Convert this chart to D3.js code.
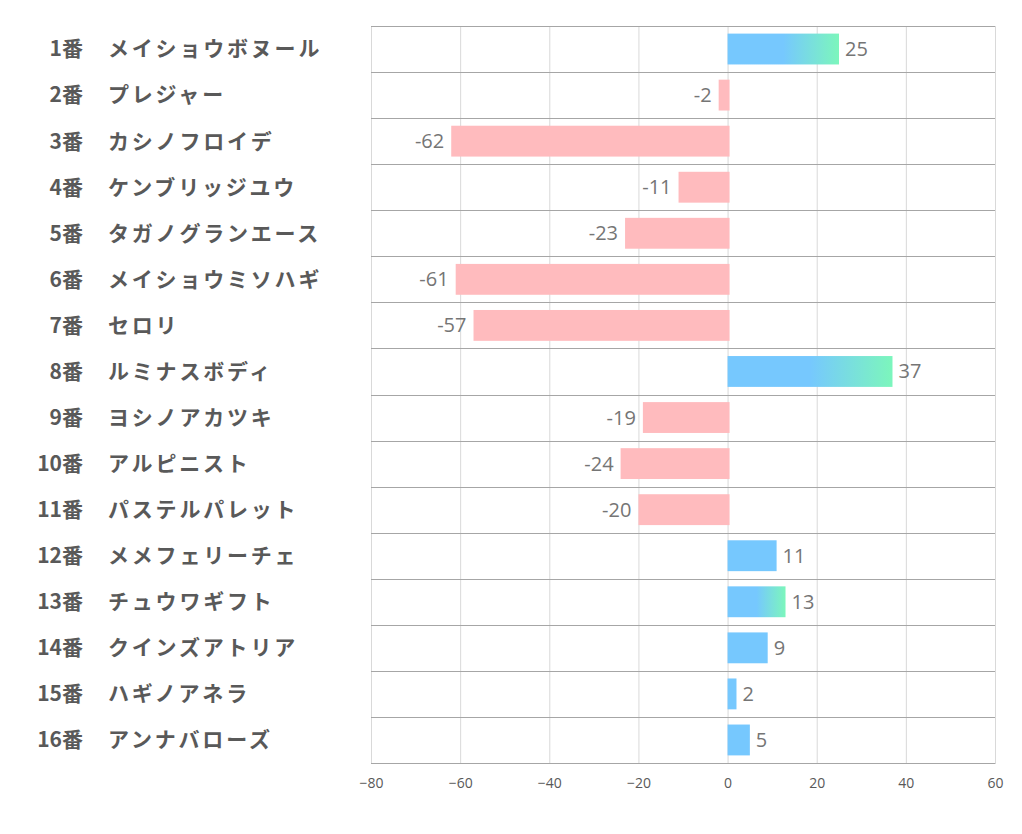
<!DOCTYPE html>
<html><head><meta charset="utf-8">
<script src="https://cdn.jsdelivr.net/npm/d3@7"></script>
<style>body{margin:0;background:#fff}svg{display:block}</style>
</head><body>
<svg id="c" width="1022" height="834"></svg>
<script>
const numbers = ["1番","2番","3番","4番","5番","6番","7番","8番","9番","10番","11番","12番","13番","14番","15番","16番"];
const names = ["メイショウボヌール","プレジャー","カシノフロイデ","ケンブリッジユウ","タガノグランエース","メイショウミソハギ","セロリ","ルミナスボディ","ヨシノアカツキ","アルピニスト","パステルパレット","メメフェリーチェ","チュウワギフト","クインズアトリア","ハギノアネラ","アンナバローズ"];
const values = [25,-2,-62,-11,-23,-61,-57,37,-19,-24,-20,11,13,9,2,5];
const ticks = [-80,-60,-40,-20,0,20,40,60];

const svg = d3.select("#c");
const L = 371, R = 995, T = 26, B = 763;
const x = d3.scaleLinear().domain([-80,60]).range([L,R]);
const y = d3.scaleBand().domain(d3.range(values.length)).range([T,B]).paddingInner(0.33).paddingOuter(0.165);
const step = (B-T)/values.length;

const defs = svg.append("defs");
const g = defs.append("linearGradient").attr("id","grad").attr("x1","0").attr("x2","1").attr("y1","0").attr("y2","0");
g.append("stop").attr("offset","0").attr("stop-color","#76C8FE");
g.append("stop").attr("offset","0.5").attr("stop-color","#76C8FE");
g.append("stop").attr("offset","1").attr("stop-color","#7CF6BC");

svg.append("g").selectAll("line").data(ticks).join("line")
  .attr("x1",d=>x(d)+0.5).attr("x2",d=>x(d)+0.5).attr("y1",T).attr("y2",B)
  .attr("stroke","#d9d9d9").attr("stroke-width",1);
svg.append("g").selectAll("line").data(d3.range(values.length+1)).join("line")
  .attr("x1",L).attr("x2",R).attr("y1",d=>Math.round(T+d*step)+0.5).attr("y2",d=>Math.round(T+d*step)+0.5)
  .attr("stroke","#a6a6a6").attr("stroke-width",1);

svg.append("g").selectAll("rect").data(values).join("rect")
  .attr("x",d=>d<0?x(d):x(0))
  .attr("width",d=>Math.abs(x(d)-x(0))+(d<0?2:0))
  .attr("y",(d,i)=>y(i)).attr("height",y.bandwidth())
  .attr("fill",d=>d<0?"#FFBBBE":(d>=12?"url(#grad)":"#76C8FE"));

svg.append("g").selectAll("text").data(values).join("text")
  .attr("x",d=>d<0?x(d)-7:x(d)+6)
  .attr("y",(d,i)=>y(i)+y.bandwidth()/2)
  .attr("dy","0.35em")
  .attr("text-anchor",d=>d<0?"end":"start")
  .attr("font-family","'Open Sans', Lato, sans-serif").attr("font-size",20)
  .attr("fill","#757575").text(d=>d);

const ax = svg.append("g").attr("transform",`translate(0,${B})`)
  .call(d3.axisBottom(x).tickValues(ticks).tickSize(0).tickPadding(15));
ax.select(".domain").attr("stroke","#a6a6a6");
ax.selectAll("text").attr("font-family","'Open Sans', Lato, sans-serif").attr("font-size",14).attr("fill","#595959");

const lab = svg.append("g").attr("font-family","'Noto Sans CJK JP', sans-serif").attr("font-weight","bold").attr("fill","#595959");
lab.selectAll("text.n").data(numbers).join("text").attr("class","n")
  .attr("x",83).attr("y",(d,i)=>T+(i+0.5)*step).attr("dy","0.35em").attr("text-anchor","end")
  .attr("font-size",21).text(d=>d);
lab.selectAll("text.m").data(names).join("text").attr("class","m")
  .attr("x",108).attr("y",(d,i)=>T+(i+0.5)*step).attr("dy","0.35em")
  .attr("font-size",21).attr("letter-spacing",2.8).text(d=>d);
</script>
</body></html>
